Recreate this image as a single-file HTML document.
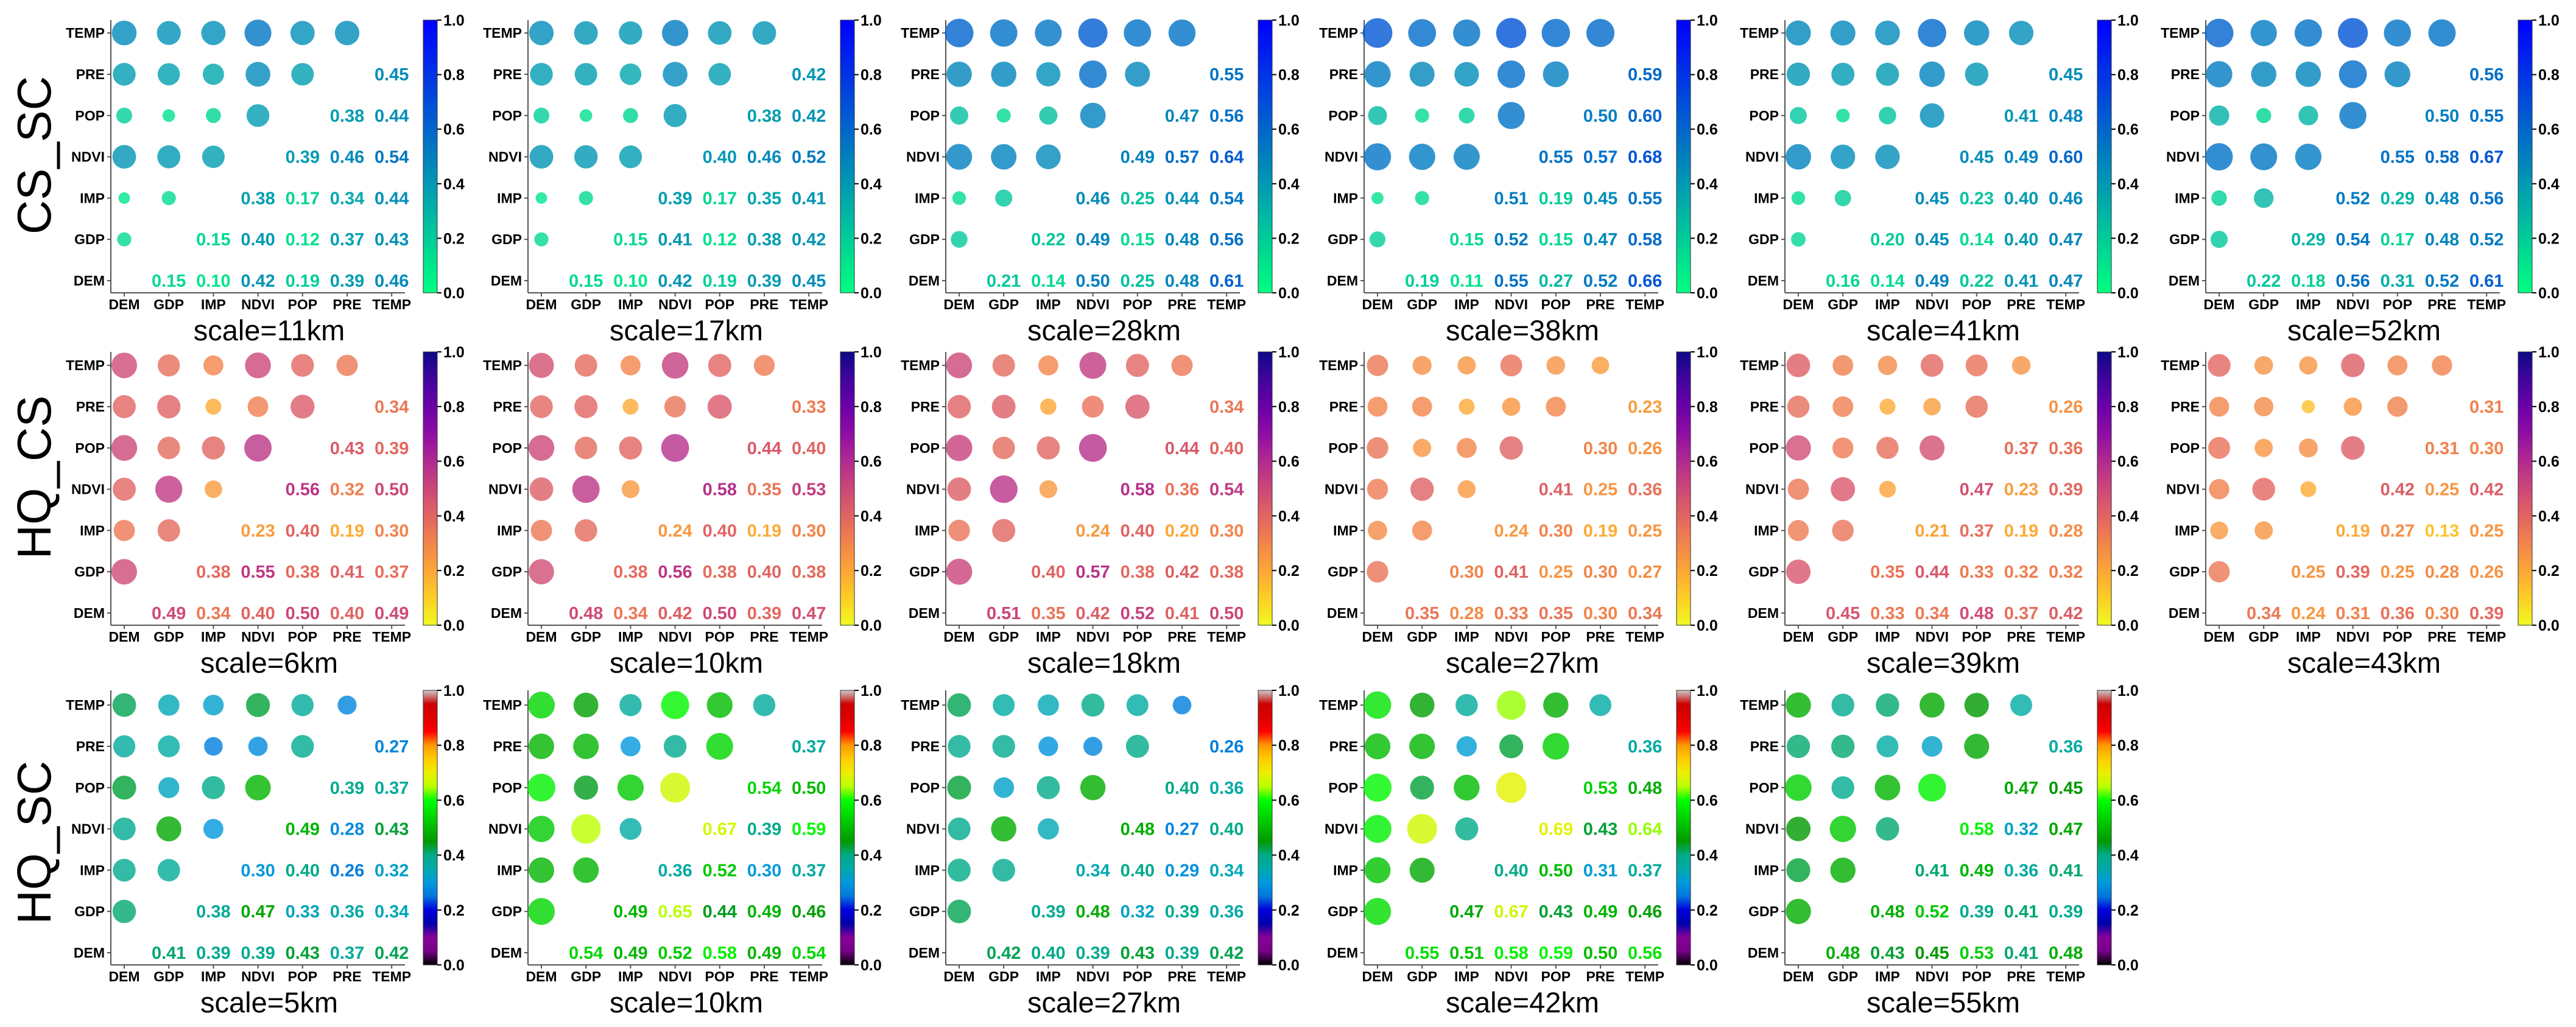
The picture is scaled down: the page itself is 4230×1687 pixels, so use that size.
<!DOCTYPE html>
<html><head><meta charset="utf-8">
<style>
html,body{margin:0;padding:0;background:#fff;}
svg{display:block;font-family:"Liberation Sans",Arial,sans-serif;}
</style></head>
<body>
<svg id="fig" xmlns="http://www.w3.org/2000/svg" width="4230" height="1687" viewBox="0 0 4230 1687">
<defs id="defs"></defs>
</svg>
<script>
// ---------- data ----------
const vars = ['DEM','GDP','IMP','NDVI','POP','PRE','TEMP'];
const rowNames = ['CS_SC','HQ_CS','HQ_SC'];
const csScales = ['11km','17km','28km','38km','41km','52km'];
const hqcsScales = ['6km','10km','18km','27km','39km','43km'];
const hqscScales = ['5km','10km','27km','42km','55km'];
const colorbarTicks = [0,0.2,0.4,0.6,0.8,1.0];
const colorbarTickLabels = ['0.0','0.2','0.4','0.6','0.8','1.0'];
// pair order: DEM-(GDP..TEMP), GDP-(IMP..TEMP), IMP-(NDVI..TEMP), NDVI-(POP,PRE,TEMP), POP-(PRE,TEMP), PRE-TEMP
const cs11 = [.15,.10,.42,.19,.39,.46, .15,.40,.12,.37,.43, .38,.17,.34,.44, .39,.46,.54, .38,.44, .45];
const cs17 = [.15,.10,.42,.19,.39,.45, .15,.41,.12,.38,.42, .39,.17,.35,.41, .40,.46,.52, .38,.42, .42];
const cs28 = [.21,.14,.50,.25,.48,.61, .22,.49,.15,.48,.56, .46,.25,.44,.54, .49,.57,.64, .47,.56, .55];
const cs38 = [.19,.11,.55,.27,.52,.66, .15,.52,.15,.47,.58, .51,.19,.45,.55, .55,.57,.68, .50,.60, .59];
const cs41 = [.16,.14,.49,.22,.41,.47, .20,.45,.14,.40,.47, .45,.23,.40,.46, .45,.49,.60, .41,.48, .45];
const cs52 = [.22,.18,.56,.31,.52,.61, .29,.54,.17,.48,.52, .52,.29,.48,.56, .55,.58,.67, .50,.55, .56];
const hqcs6  = [.49,.34,.40,.50,.40,.49, .38,.55,.38,.41,.37, .23,.40,.19,.30, .56,.32,.50, .43,.39, .34];
const hqcs10 = [.48,.34,.42,.50,.39,.47, .38,.56,.38,.40,.38, .24,.40,.19,.30, .58,.35,.53, .44,.40, .33];
const hqcs18 = [.51,.35,.42,.52,.41,.50, .40,.57,.38,.42,.38, .24,.40,.20,.30, .58,.36,.54, .44,.40, .34];
const hqcs27 = [.35,.28,.33,.35,.30,.34, .30,.41,.25,.30,.27, .24,.30,.19,.25, .41,.25,.36, .30,.26, .23];
const hqcs39 = [.45,.33,.34,.48,.37,.42, .35,.44,.33,.32,.32, .21,.37,.19,.28, .47,.23,.39, .37,.36, .26];
const hqcs43 = [.34,.24,.31,.36,.30,.39, .25,.39,.25,.28,.26, .19,.27,.13,.25, .42,.25,.42, .31,.30, .31];
const hqsc5  = [.41,.39,.39,.43,.37,.42, .38,.47,.33,.36,.34, .30,.40,.26,.32, .49,.28,.43, .39,.37, .27];
const hqsc10 = [.54,.49,.52,.58,.49,.54, .49,.65,.44,.49,.46, .36,.52,.30,.37, .67,.39,.59, .54,.50, .37];
const hqsc27 = [.42,.40,.39,.43,.39,.42, .39,.48,.32,.39,.36, .34,.40,.29,.34, .48,.27,.40, .40,.36, .26];
const hqsc42 = [.55,.51,.58,.59,.50,.56, .47,.67,.43,.49,.46, .40,.50,.31,.37, .69,.43,.64, .53,.48, .36];
const hqsc55 = [.48,.43,.45,.53,.41,.48, .48,.52,.39,.41,.39, .41,.49,.36,.41, .58,.32,.47, .47,.45, .36];

const rowsData = [
  {name: rowNames[0], cmap:'winter_r', scales: csScales, values:[cs11,cs17,cs28,cs38,cs41,cs52]},
  {name: rowNames[1], cmap:'plasma_r', scales: hqcsScales, values:[hqcs6,hqcs10,hqcs18,hqcs27,hqcs39,hqcs43]},
  {name: rowNames[2], cmap:'nipy', scales: hqscScales, values:[hqsc5,hqsc10,hqsc27,hqsc42,hqsc55]}
];

// ---------- layout ----------
const panelX = [182, 867, 1553, 2240, 2931, 3622];
const rowTop = [33, 578, 1134];
const rowBottom = [481, 1027, 1585];
const rowLabelY = [255, 784, 1384];
const colStep = 73.2, rowStep = 67.8;

// ---------- colormaps ----------
const plasmaStops = [[13,8,135],[65,4,157],[106,0,168],[143,13,164],[177,42,144],[204,71,120],[225,100,98],[242,132,75],[252,166,54],[252,206,37],[240,249,33]];
const nipyR = [0,.4667,.5333,0,0,0,0,0,0,0,0,0,0,.7333,.9333,1,1,1,.8667,.8,.8];
const nipyG = [0,0,0,0,0,.4667,.6,.6667,.6667,.6,.7333,.8667,1,1,.9333,.8,.6,0,0,0,.8];
const nipyB = [0,.5333,.6,.6667,.8667,.8667,.8667,.6667,.5333,0,0,0,0,0,0,0,0,0,0,0,.8];
function lerpArr(arr, t){ const n=arr.length-1; const p=Math.max(0,Math.min(1,t))*n; const i=Math.min(n-1,Math.floor(p)); const f=p-i; return arr[i]+(arr[i+1]-arr[i])*f; }
function cmap(name, v){
  v=Math.max(0,Math.min(1,v));
  let r,g,b;
  if(name==='winter_r'){ r=0; g=255*(1-v); b=255*(0.5+0.5*v); }
  else if(name==='plasma_r'){ const t=1-v; const n=plasmaStops.length-1; const p=t*n; const i=Math.min(n-1,Math.floor(p)); const f=p-i;
    r=plasmaStops[i][0]+(plasmaStops[i+1][0]-plasmaStops[i][0])*f; g=plasmaStops[i][1]+(plasmaStops[i+1][1]-plasmaStops[i][1])*f; b=plasmaStops[i][2]+(plasmaStops[i+1][2]-plasmaStops[i][2])*f; }
  else { r=255*lerpArr(nipyR,v); g=255*lerpArr(nipyG,v); b=255*lerpArr(nipyB,v); }
  return `rgb(${Math.round(r)},${Math.round(g)},${Math.round(b)})`;
}

// ---------- drawing ----------
const NS='http://www.w3.org/2000/svg';
const svg=document.getElementById('fig');
const defs=document.getElementById('defs');
function mk(tag, attrs, parent){ const e=document.createElementNS(NS,tag); for(const k in attrs) e.setAttribute(k,attrs[k]); (parent||svg).appendChild(e); return e; }
function pairIndex(i,j){ if(i>j){const t=i;i=j;j=t;} let idx=0; for(let a=0;a<i;a++) idx+=6-a; return idx+(j-i-1); }

['winter_r','plasma_r','nipy'].forEach(function(cm){
  const g=mk('linearGradient',{id:'grad-'+cm,x1:0,y1:1,x2:0,y2:0},defs);
  for(let s=0;s<=40;s++){ mk('stop',{offset:(s/40).toFixed(3),'stop-color':cmap(cm,s/40)},g); }
});

rowsData.forEach(function(row, r){
  const lab=mk('text',{x:83,y:rowLabelY[r],'font-size':78,'text-anchor':'middle',transform:`rotate(-90 83 ${rowLabelY[r]})`,fill:'#000'});
  
  
  lab.textContent=row.name;

  row.values.forEach(function(vals, k){
    const ax=panelX[k], top=rowTop[r], bot=rowBottom[r];
    const g=mk('g',{});
    
    
    const cx=c=>ax+22+c*colStep;
    const cy=i=>bot-20-i*rowStep;
    const yl=mk('line',{x1:ax,y1:top,x2:ax,y2:bot,stroke:'#555','stroke-width':2},g);
     
    const xl=mk('line',{x1:ax,y1:bot,x2:ax+483,y2:bot,stroke:'#555','stroke-width':2},g);
     
    vars.forEach(function(v,i){
      mk('line',{x1:ax-6,y1:cy(i),x2:ax,y2:cy(i),stroke:'#555','stroke-width':2},g);
      const t=mk('text',{x:ax-10,y:cy(i)+8,'font-size':23,'font-weight':'bold','text-anchor':'end',fill:'#000'},g);
       
      t.textContent=v;
      mk('line',{x1:cx(i),y1:bot,x2:cx(i),y2:bot+6,stroke:'#555','stroke-width':2},g);
      const tx=mk('text',{x:cx(i),y:bot+27,'font-size':23,'font-weight':'bold','text-anchor':'middle',fill:'#000'},g);
       
      tx.textContent=v;
    });
    for(let i=0;i<7;i++){ for(let c=0;c<7;c++){
      if(i===c) continue;
      const val=vals[pairIndex(i,c)];
      const col=cmap(row.cmap,val);
      if(c<i){
        const ci=mk('circle',{cx:cx(c),cy:cy(i),r:(30*Math.sqrt(val)).toFixed(2),fill:col,'fill-opacity':0.8},g);
         
      } else {
        const t=mk('text',{x:cx(c),y:cy(i)+10,'font-size':29,'font-weight':'bold','text-anchor':'middle',fill:col},g);
         
        t.textContent=val.toFixed(2);
      }
    }}
    const cbx=ax+513;
    const cb=mk('rect',{x:cbx,y:top,width:23,height:bot-top,fill:`url(#grad-${row.cmap})`,stroke:'#333','stroke-width':1},g);
     
    colorbarTicks.forEach(function(tv,ti){
      const ty=bot-tv*(bot-top);
      mk('line',{x1:cbx+23,y1:ty,x2:cbx+30,y2:ty,stroke:'#000','stroke-width':2},g);
      const t=mk('text',{x:cbx+33,y:ty+9,'font-size':25,'font-weight':'bold',fill:'#000'},g);
       
      t.textContent=colorbarTickLabels[ti];
    });
    const tt=mk('text',{x:ax+260,y:bot+78,'font-size':47,'text-anchor':'middle',fill:'#000'},g);
     
    tt.textContent='scale='+row.scales[k];
  });
});
</script>
</body></html>
